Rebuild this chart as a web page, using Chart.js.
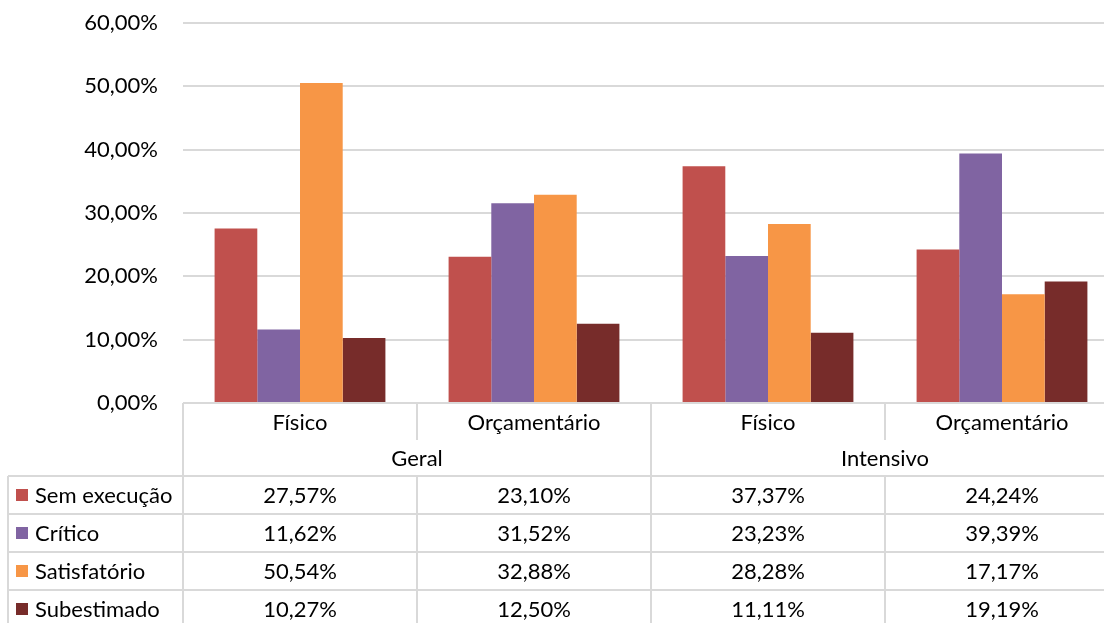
<!DOCTYPE html>
<html>
<head>
<meta charset="utf-8">
<script src="https://cdn.jsdelivr.net/npm/chart.js@4/dist/chart.umd.min.js"></script>
<style>
html,body{margin:0;padding:0;background:#fff;overflow:hidden;}
#wrap{width:1120px;height:623px;}
</style>
</head>
<body>
<div id="wrap"><canvas id="c" width="1120" height="623"></canvas></div>
<script>
const categories = ['Físico', 'Orçamentário', 'Físico', 'Orçamentário'];
const groups = ['Geral', 'Intensivo'];
const seriesNames = ['Sem execução', 'Crítico', 'Satisfatório', 'Subestimado'];
const semExecucao = [27.57, 23.10, 37.37, 24.24];
const critico = [11.62, 31.52, 23.23, 39.39];
const satisfatorio = [50.54, 32.88, 28.28, 17.17];
const subestimado = [10.27, 12.50, 11.11, 19.19];
const yTicks = [0, 10, 20, 30, 40, 50, 60];
const colors = ['#C0504D', '#8064A2', '#F79646', '#772C2A'];

const FONT = 'Lato, "Noto Sans", sans-serif';
const FS = 22;
const GRID = '#d9d9d9';
const fmt = v => v.toFixed(2).replace('.', ',') + '%';

const seriesData = [semExecucao, critico, satisfatorio, subestimado];

const tablePlugin = {
  id: 'dataTable',
  afterDraw(chart) {
    const ctx = chart.ctx;
    const x = chart.scales.x;
    const area = chart.chartArea;
    const n = categories.length;
    const cw = (area.right - area.left) / n;
    const bounds = [];
    for (let i = 0; i <= n; i++) bounds.push(area.left + cw * i);
    const top = area.bottom;
    const catRowBottom = top + 37;
    const groupRowBottom = top + 73;
    const rowH = 38;
    const tableLeft = 8;
    ctx.save();
    ctx.strokeStyle = GRID;
    ctx.lineWidth = 2;
    ctx.beginPath();
    ctx.moveTo(area.left, top); ctx.lineTo(area.right, top);
    ctx.stroke();
    ctx.beginPath();
    for (let i = 0; i <= n; i++) {
      ctx.moveTo(bounds[i], top);
      ctx.lineTo(bounds[i], catRowBottom);
    }
    [0, 2, 4].forEach(i => {
      ctx.moveTo(bounds[i], catRowBottom);
      ctx.lineTo(bounds[i], groupRowBottom);
    });
    ctx.stroke();
    const totalBottom = groupRowBottom + rowH * seriesNames.length;
    ctx.beginPath();
    for (let r = 0; r <= seriesNames.length; r++) {
      const y = groupRowBottom + rowH * r;
      ctx.moveTo(tableLeft, y); ctx.lineTo(area.right, y);
    }
    ctx.moveTo(tableLeft, groupRowBottom); ctx.lineTo(tableLeft, totalBottom);
    for (let i = 0; i <= n; i++) {
      ctx.moveTo(bounds[i], groupRowBottom); ctx.lineTo(bounds[i], totalBottom);
    }
    ctx.stroke();

    ctx.fillStyle = '#000';
    ctx.font = FS + 'px ' + FONT;
    ctx.textBaseline = 'middle';
    ctx.textAlign = 'center';
    for (let i = 0; i < n; i++) {
      ctx.fillText(categories[i], x.getPixelForValue(i), (top + catRowBottom) / 2 + 1);
    }
    groups.forEach((g, gi) => {
      const cx = (bounds[gi * 2] + bounds[gi * 2 + 2]) / 2;
      ctx.fillText(g, cx, (catRowBottom + groupRowBottom) / 2 + 1);
    });
    for (let r = 0; r < seriesNames.length; r++) {
      const cy = groupRowBottom + rowH * r + rowH / 2;
      for (let i = 0; i < n; i++) {
        ctx.textAlign = 'center';
        ctx.fillStyle = '#000';
        ctx.fillText(fmt(seriesData[r][i]), x.getPixelForValue(i), cy + 1);
      }
      ctx.fillStyle = colors[r];
      ctx.fillRect(16, cy - 6, 12, 12);
      ctx.fillStyle = '#000';
      ctx.textAlign = 'left';
      ctx.fillText(seriesNames[r], 35, cy + 1);
    }
    ctx.restore();
  }
};

new Chart(document.getElementById('c'), {
  type: 'bar',
  data: {
    labels: categories,
    datasets: seriesNames.map((name, i) => ({
      label: name,
      data: seriesData[i],
      backgroundColor: colors[i],
      borderWidth: 0,
      categoryPercentage: 0.73,
      barPercentage: 1
    }))
  },
  options: {
    responsive: false,
    animation: false,
    devicePixelRatio: 1,
    layout: { padding: { top: 23, bottom: 220, left: 0, right: 1 } },
    plugins: { legend: { display: false }, tooltip: { enabled: false } },
    scales: {
      x: { display: false },
      y: {
        min: 0, max: 60,
        afterBuildTicks: s => { s.ticks = yTicks.map(v => ({ value: v })); },
        afterFit: s => { s.width = 183; s.paddingTop = 0; s.paddingBottom = 0; },
        ticks: {
          padding: 25,
          color: '#000',
          font: { family: FONT, size: FS },
          callback: v => fmt(v)
        },
        grid: { color: GRID, lineWidth: 2, drawTicks: false },
        border: { display: false }
      }
    }
  },
  plugins: [tablePlugin]
});
</script>
</body>
</html>
